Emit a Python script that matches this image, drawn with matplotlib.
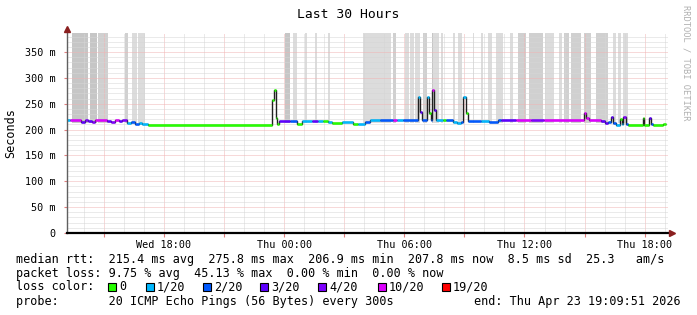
import matplotlib
matplotlib.use("Agg")
import matplotlib.pyplot as plt
from matplotlib.patches import Rectangle

# --- data (time in hours since Wed 00:00, rtt in ms) ---
t_start, t_end = 13.164, 43.164

# median rtt as steps: edges has one more entry than values
edges = [13.16, 13.31, 13.86, 14.06, 14.21, 14.41, 14.56, 15.16, 15.36, 15.56, 15.76, 15.91,
         16.16, 16.36, 16.56, 16.76, 16.91, 17.21, 23.41, 23.51, 23.61, 23.66, 23.76,
         24.31, 24.66, 24.91, 25.41, 25.71, 25.96, 26.21, 26.41, 26.91, 27.46, 27.71, 28.06,
         28.31, 28.81, 29.46, 29.66, 29.96, 30.68, 30.78, 30.86, 31.13, 31.23, 31.31, 31.40,
         31.48, 31.56, 31.91, 32.06, 32.41, 32.61, 32.81, 32.93, 33.10, 33.16, 33.81, 34.21,
         34.66, 34.81, 35.56, 36.31, 36.96, 38.98, 39.09, 39.21, 39.81, 40.01, 40.16, 40.31,
         40.41, 40.56, 40.76, 40.86, 40.91, 41.06, 41.16, 41.90, 41.96, 42.21, 42.31, 42.41,
         42.91, 43.06]
median = [218, 219, 215, 219, 216, 214, 219, 216, 214, 219, 216, 218,
          213, 215, 211, 212, 210, 208.5, 258, 276, 222, 210,
          216, 216, 211, 216, 216, 216, 216, 215, 212, 214, 210, 211, 215,
          219, 219, 219, 219, 219, 264, 235, 218, 264, 233, 218, 276,
          238, 218, 218, 218, 214, 212, 214, 263, 232, 216, 216, 214,
          218, 219, 219, 219, 219, 232, 223, 219, 216, 212, 215, 224,
          213, 209, 221, 210, 224, 210, 208.5, 222, 208.5, 223, 211, 208.5,
          211]
loss = [1, 5, 3, 4, 3, 4, 5, 3, 4, 5, 3, 4,
        1, 2, 2, 1, 1, 0, 0, 0, 0, 0,
        3, 2, 0, 1, 3, 1, 0, 1, 0, 1, 0, 1, 2,
        1, 2, 5, 1, 2, 1, 3, 2, 1, 0, 2, 5,
        3, 1, 0, 2, 1, 1, 2, 1, 0, 2, 1, 2,
        2, 3, 5, 4, 5, 5, 5, 5, 3, 3, 2, 3,
        2, 1, 0, 1, 4, 2, 0, 0, 0, 3, 2, 0,
        0]

# smoke bars reaching the top of the graph: start, end, shade level
smoke_start = [13.414, 14.314, 14.699, 16.049, 16.414, 16.714, 24.064, 24.464, 25.049, 25.564,
               26.199, 27.949, 29.449, 30.014, 30.299, 30.549, 30.914, 31.399, 31.449, 31.814,
               32.429, 32.679, 33.429, 33.814, 34.199, 34.564, 35.279, 35.664, 36.214, 37.049,
               37.699, 37.949, 38.314, 38.979, 39.549, 40.414, 40.679, 40.914]
smoke_end = [14.214, 14.664, 15.214, 16.214, 16.679, 17.064, 24.314, 24.664, 25.164, 25.664,
             26.299, 29.314, 29.564, 30.249, 30.499, 30.779, 31.149, 31.449, 31.749, 31.949,
             32.529, 32.899, 33.499, 33.949, 34.399, 34.949, 35.449, 36.064, 36.914, 37.449,
             37.849, 38.214, 38.814, 39.314, 40.149, 40.579, 40.814, 41.149]
smoke_shade = [2, 2, 1, 1, 0, 0, 2, 0, 0, 0,
               0, 0, 1, 0, 0, 0, 1, 2, 0, 0,
               0, 0, 0, 0, 0, 0, 0, 1, 1, 0,
               0, 1, 1, 1, 1, 0, 0, 0]
shade_colors = ["#dcdcdc", "#d0d0d0", "#c6c6c6"]

loss_labels = ["0", "1/20", "2/20", "3/20", "4/20", "10/20", "19/20"]
loss_colors = ["#26ff00", "#00b8ff", "#0059ff", "#5e00ff", "#7e00ff", "#dd00ff", "#ff0000"]

x_major = [15, 18, 21, 24, 27, 30, 33, 36, 39, 42]
x_labels = ["", "Wed 18:00", "", "Thu 00:00", "", "Thu 06:00", "", "Thu 12:00", "", "Thu 18:00"]
y_major = [0, 50, 100, 150, 200, 250, 300, 350]
y_labels = ["0", "50 m", "100 m", "150 m", "200 m", "250 m", "300 m", "350 m"]

W, H = 697, 315
MONO = "DejaVu Sans Mono"
plt.rcParams["font.family"] = MONO

fig = plt.figure(figsize=(W / 100, H / 100), dpi=100)
ax = fig.add_axes([67 / W, (H - 233) / H, (668 - 67) / W, (233 - 33) / H])
y_top = 387
ax.set_xlim(t_start, t_end)
ax.set_ylim(0, y_top)

# smoke bars
for s, e, sh in zip(smoke_start, smoke_end, smoke_shade):
    ax.bar(s, y_top - 212, width=e - s, bottom=212, align="edge",
           color=shade_colors[sh], linewidth=0, zorder=1)

# median line: thin dark steps plus coloured loss segments
ax.stairs(median, edges, baseline=None, color="#202020", linewidth=1.0, zorder=3)
for i, v in enumerate(median):
    ax.hlines(v, edges[i], edges[i + 1], color=loss_colors[loss[i]], linewidth=1.8, zorder=4)

# grid
ax.set_xticks(x_major)
ax.set_xticklabels(x_labels, fontsize=7.3)
ax.set_xticks(range(14, 44), minor=True)
ax.set_yticks(y_major)
ax.set_yticklabels(y_labels, fontsize=7.3)
ax.set_yticks(range(10, 390, 10), minor=True)
ax.grid(True, which="minor", color="#d6d6d6", linestyle=(0, (1, 1)), linewidth=0.72)
ax.grid(True, which="major", color="#f0b4b4", linestyle=(0, (1, 1)), linewidth=0.72)
ax.set_axisbelow(False)
ax.tick_params(axis="x", which="major", length=3, color="#e08080", pad=2)
ax.tick_params(axis="x", which="minor", length=0)
ax.tick_params(axis="y", which="major", length=2, color="#e08080", pad=6)
ax.tick_params(axis="y", which="minor", length=0)

for side in ["top", "right"]:
    ax.spines[side].set_visible(False)
ax.spines["left"].set_color("#606060")
ax.spines["left"].set_linewidth(1.0)
ax.spines["bottom"].set_color("black")
ax.spines["bottom"].set_linewidth(1.6)
ax.spines["left"].set_zorder(5)
ax.spines["bottom"].set_zorder(5)

# axis arrow heads
ax.plot([t_start], [y_top + 8], marker="^", color="#8a1f1f", markersize=5, clip_on=False, zorder=6)
ax.plot([t_end + 0.2], [0], marker=">", color="#8a1f1f", markersize=5, clip_on=False, zorder=6)

ax.set_ylabel("Seconds", fontsize=8.5, labelpad=6)

fig.text(348 / W, 1 - 14 / H, "Last 30 Hours", ha="center", va="center", fontsize=9.4)
fig.text(686 / W, 1 - 5 / H, "RRDTOOL / TOBI OETIKER", ha="center", va="top",
         rotation=270, fontsize=6.3, color="#b0b0b0")

fs = 8.5
fig.text(16 / W, 1 - 259 / H,
         "median rtt:  215.4 ms avg  275.8 ms max  206.9 ms min  207.8 ms now  8.5 ms sd  25.3   am/s",
         va="center", fontsize=fs)
fig.text(16 / W, 1 - 273 / H,
         "packet loss: 9.75 % avg  45.13 % max  0.00 % min  0.00 % now",
         va="center", fontsize=fs)
fig.text(16 / W, 1 - 287 / H, "loss color:", va="center", fontsize=fs)
box_x = [108, 146, 203, 260, 318, 378, 442]
for bx, lab, col in zip(box_x, loss_labels, loss_colors):
    fig.add_artist(Rectangle((bx / W, 1 - 291 / H), 8 / W, 8 / H, transform=fig.transFigure,
                             facecolor=col, edgecolor="black", linewidth=0.8))
    fig.text((bx + 11) / W, 1 - 287 / H, lab, va="center", fontsize=fs)
fig.text(16 / W, 1 - 301 / H, "probe:       20 ICMP Echo Pings (56 Bytes) every 300s",
         va="center", fontsize=fs)
fig.text(681 / W, 1 - 301 / H, "end: Thu Apr 23 19:09:51 2026", ha="right", va="center", fontsize=fs)

fig.savefig("out.png", dpi=100, facecolor="white")
